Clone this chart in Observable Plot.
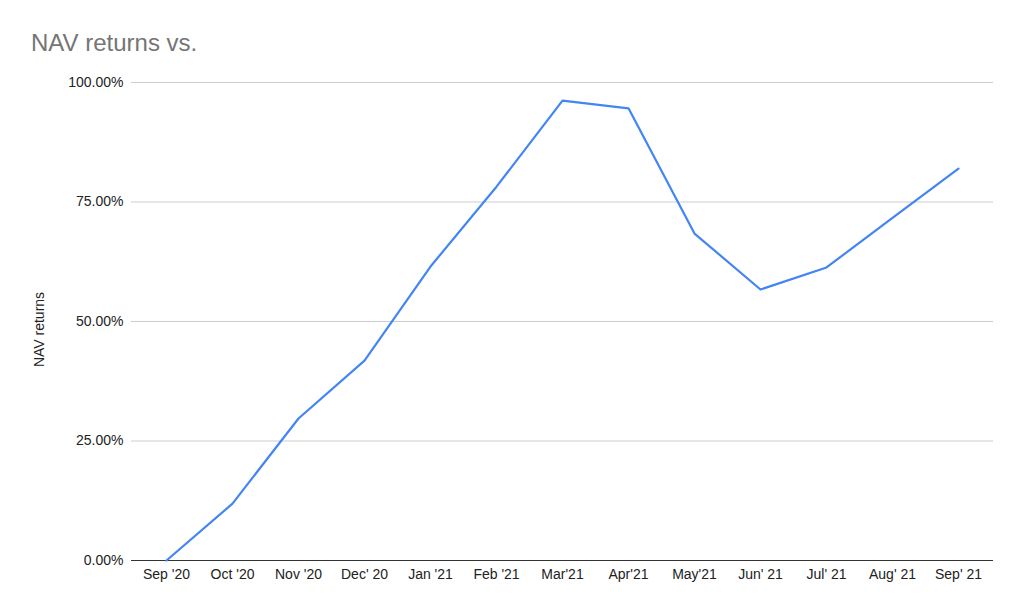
<!DOCTYPE html>
<html>
<head>
<meta charset="utf-8">
<script src="https://cdn.jsdelivr.net/npm/d3@7"></script>
<script src="https://cdn.jsdelivr.net/npm/@observablehq/plot@0.6"></script>
<style>
  html, body { margin: 0; padding: 0; background: #fff; }
  body { width: 1024px; height: 613px; overflow: hidden; font-family: Arial, "Liberation Sans", sans-serif; }
  #title { height: 60px; box-sizing: border-box; padding: 30px 0 0 31px; font-size: 24px; color: #757575; line-height: 26px; }
  #chart svg { display: block; }
</style>
</head>
<body>
<div id="title">NAV returns vs.</div>
<div id="chart"></div>
<script>
const months = ["Sep '20", "Oct '20", "Nov '20", "Dec' 20", "Jan '21", "Feb '21", "Mar'21", "Apr'21", "May'21", "Jun' 21", "Jul' 21", "Aug' 21", "Sep' 21"];
const navReturns = [0.0, 11.9, 29.7, 41.8, 61.5, 78.2, 96.2, 94.6, 68.4, 56.7, 61.3, 71.7, 82.0];
const yTicks = [0, 25, 50, 75, 100];
const yLabel = "NAV returns";

const data = months.map((m, i) => ({month: m, value: navReturns[i]}));

const chart = Plot.plot({
  width: 1024,
  height: 553,
  marginLeft: 131,
  marginRight: 31,
  marginTop: 22,
  marginBottom: 53,
  style: {fontFamily: "Arial, 'Liberation Sans', sans-serif", fontSize: "14px", color: "#222", background: "#fff"},
  x: {type: "point", domain: months, padding: 0.5, label: null, tickSize: 0, tickPadding: 10},
  y: {domain: [0, 100], ticks: yTicks, label: null, tickSize: 0, tickPadding: 8, tickFormat: d => d.toFixed(2) + "%"},
  marks: [
    Plot.gridY(yTicks.filter(d => d > 0), {stroke: "#cccccc", strokeOpacity: 1, strokeWidth: 1}),
    Plot.axisY({ticks: yTicks, tickSize: 0, tickPadding: 8, tickFormat: d => d.toFixed(2) + "%", fontSize: 14, fill: "#222", label: null}),
    Plot.axisX({tickSize: 0, tickPadding: 9, fontSize: 14, fill: "#222", label: null}),
    Plot.ruleY([0], {stroke: "#333", strokeWidth: 1.2}),
    Plot.line(data, {x: "month", y: "value", stroke: "#4285f4", strokeWidth: 2.2, curve: "linear"}),
    Plot.text([yLabel], {frameAnchor: "left", textAnchor: "middle", dx: -92, dy: 8, rotate: -90, fontSize: 14, fill: "#222"})
  ]
});
document.getElementById("chart").appendChild(chart);
</script>
</body>
</html>
